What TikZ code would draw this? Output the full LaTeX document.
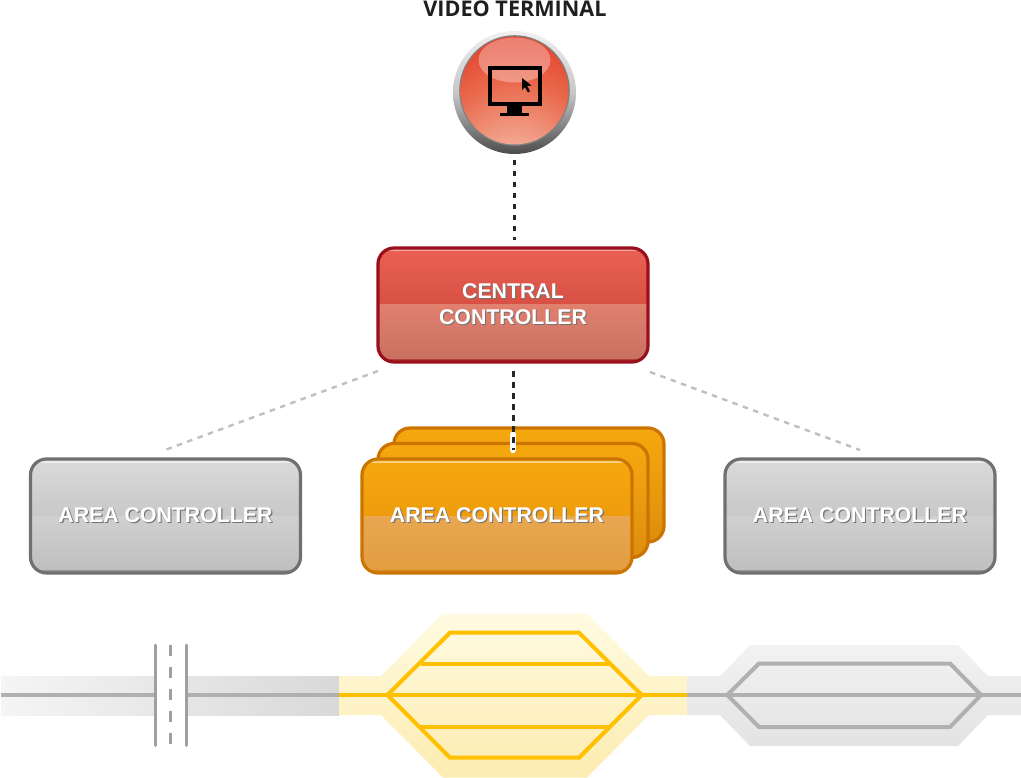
\documentclass[tikz,border=0pt]{standalone}
\usepackage{fontspec}
\setmainfont{Liberation Sans}
\newfontfamily\titlefont{Open Sans}
\usetikzlibrary{calc}

\definecolor{rdA}{HTML}{EA6055}
\definecolor{rdB}{HTML}{D85044}
\definecolor{rdC}{HTML}{E0806F}
\definecolor{rdD}{HTML}{C86F5E}
\definecolor{orA}{HTML}{F6A80F}
\definecolor{orB}{HTML}{EE9C0C}
\definecolor{orC}{HTML}{E8A750}
\definecolor{orD}{HTML}{E29C40}
\definecolor{orE}{HTML}{DC8E0E}
\definecolor{gyA}{HTML}{DADADA}
\definecolor{gyB}{HTML}{C8C8C8}
\definecolor{gyC}{HTML}{D0D0D0}
\definecolor{gyD}{HTML}{BEBEBE}
\definecolor{railgray}{HTML}{B0B0B0}
\definecolor{railyellow}{HTML}{FFC000}
\definecolor{roadmark}{HTML}{A0A0A0}
\definecolor{rdFrame}{HTML}{9A0F1C}
\definecolor{orFrame}{HTML}{CC7400}
\definecolor{gyFrame}{HTML}{707070}
\definecolor{lensA}{HTML}{FAD3C6}
\definecolor{lensB}{HTML}{F3AA95}
\definecolor{lensC}{HTML}{E9694C}
\definecolor{lensD}{HTML}{E0301E}
\definecolor{yellowTop}{HTML}{FFFBE2}
\definecolor{yellowBot}{HTML}{FDECB0}

% Lens shading of the terminal button, brightest at its lower rim
\pgfdeclareradialshading{lens}{\pgfpoint{0bp}{-50bp}}{%
  color(0bp)=(lensA);
  color(16bp)=(lensB);
  color(36bp)=(lensC);
  color(58bp)=(lensD);
  color(100bp)=(lensD)}

\newcommand{\embossed}[1]{\leavevmode\rlap{\kern1.1pt\raisebox{-1.1pt}{\textcolor{black!55}{#1}}}\textcolor{white}{#1}}

\tikzset{
  x=1pt,y=-1pt,
  panelbox/.style={
    line width=3.2pt, rounded corners=16pt,
    minimum width=270pt, minimum height=114pt, inner sep=0pt,
    align=center, font=\fontsize{21.3}{26}\selectfont\bfseries},
  glossbox/.style n args={6}{
    panelbox, draw=#1,
    path picture={
      \begin{scope}[sharp corners]
      \shade[top color=#2,bottom color=#3]
        (path picture bounding box.north west) rectangle
        (path picture bounding box.east);
      \shade[top color=#4,bottom color=#5]
        (path picture bounding box.west) rectangle
        (path picture bounding box.south east);
      \draw[white,opacity=.45,line width=2pt]
        ($(path picture bounding box.north west)+(0,2.5)$) --
        ($(path picture bounding box.north east)+(0,2.5)$);
      \draw[#6,opacity=.5,line width=2pt]
        ($(path picture bounding box.south west)+(0,-2)$) --
        ($(path picture bounding box.south east)+(0,-2)$);
      \end{scope}
    }},
  redbox/.style={glossbox={rdFrame}{rdA}{rdB}{rdC}{rdD}{rdFrame}},
  orangebox/.style={glossbox={orFrame}{orA}{orB}{orC}{orD}{orFrame}},
  stackedbox/.style={panelbox, draw=orFrame, top color=orA, bottom color=orE},
  graybox/.style={glossbox={gyFrame}{gyA}{gyB}{gyC}{gyD}{gyFrame}},
  signal/.style={line width=3pt,black!85,dash pattern=on 5.5pt off 5.5pt},
  idlelink/.style={line width=2.4pt,black!25,dash pattern=on 5.5pt off 5.5pt},
  yellowtrack/.style={line width=4pt,railyellow,miter limit=10},
  graytrack/.style={line width=4pt,railgray},
  roadedge/.style={line width=3pt,roadmark,line cap=round},
}

\begin{document}
\begin{tikzpicture}
\useasboundingbox (0,0) rectangle (1021,778);

% Running line at the bottom: plain track, station zones and level crossing
\shade[left color=black!4,right color=black!15] (1,676) rectangle (339,715);
\fill[white] (155,670) rectangle (186,720);
\draw[graytrack] (1,695) -- (155,695) (186,695) -- (339,695);
\draw[roadedge] (155,645) -- (155,745.5);
\draw[roadedge] (186,645) -- (186,745.5);
\draw[line width=3pt,roadmark,dash pattern=on 11pt off 11pt] (170.5,644.5) -- (170.5,746);

\shade[top color=yellowTop,bottom color=yellowBot]
  (339,676) -- (381,676) -- (443,613.5) -- (587,613.5) -- (649,676) -- (687,676)
  -- (687,715) -- (649,715) -- (587,777.5) -- (443,777.5) -- (381,715) -- (339,715) -- cycle;
\draw[yellowtrack] (339,695) -- (687,695);
\draw[yellowtrack] (387.5,695) -- (450,632.7) -- (579,632.7) -- (641.7,695);
\draw[yellowtrack] (387.5,695) -- (450,757.7) -- (579,757.7) -- (641.7,695);
\draw[yellowtrack] (420.7,664) -- (609,664);
\draw[yellowtrack] (420.7,726.5) -- (609,726.5);

\shade[top color=black!5,bottom color=black!11]
  (687,676) -- (720,676) -- (750,645) -- (958,645) -- (988,676) -- (1021,676)
  -- (1021,715) -- (988,715) -- (958,746) -- (750,746) -- (720,715) -- (687,715) -- cycle;
\draw[graytrack] (687,695) -- (1021,695);
\draw[graytrack] (727.3,695) -- (759,663.5) -- (950,663.5) -- (981,695);
\draw[graytrack] (727.3,695) -- (759,727) -- (950,727) -- (981,695);

% Controllers
\node[redbox] (central) at (513,305) {\embossed{CENTRAL}\\\embossed{CONTROLLER}};
\node[stackedbox] (areaback) at (529,485) {};
\node[stackedbox] (areamid) at (513,500.5) {};
\node[orangebox] (areafront) at (497,516) {\embossed{AREA CONTROLLER}};
\node[graybox] (arealeft) at (165.5,516) {\embossed{AREA CONTROLLER}};
\node[graybox] (arearight) at (860,516) {\embossed{AREA CONTROLLER}};

% Terminal button with its monitor symbol
\coordinate (btn) at (514.5,92.5);
\coordinate (lenscentre) at (514.5,90.5);
\shade[top color=black!6,bottom color=black!70,middle color=black!22] (btn) circle[radius=61.5];
\fill[black!50] (lenscentre) circle[radius=55.3];
\shade[shading=lens] (lenscentre) circle[radius=54];
\fill[white,opacity=.32] (514.5,60) ellipse[x radius=36,y radius=22.5];
\draw[black,line width=4pt] (489.7,67.7) rectangle (539.7,103.7);
\fill[black] (507,105) rectangle (521.7,113);
\fill[black] (500,113) rectangle (529,116);
\fill[black] (522,78) -- (522,90) -- (525,87.2) -- (528,92.5) -- (530,91.3) -- (527.2,86) -- (531.5,85.5) -- cycle;
\node[font=\titlefont\fontsize{21.6}{24}\selectfont\bfseries,text=black!88,inner sep=0pt] (videolabel) at (515,8.5) {VIDEO TERMINAL};
\node[circle,minimum size=123pt,inner sep=0pt] (terminal) at (btn) {};

% Links between terminal and controllers
\coordinate (termdrop) at (514.5,160);
\coordinate (centralfeed) at (514.5,240);
\coordinate (stackport) at (513,450);
\coordinate (leftend) at (165,450);
\coordinate (rightend) at (860,450);
\coordinate (leftstart) at (378,371);
\coordinate (rightstart) at (650,372);
\coordinate (midstart) at (513,371);
\draw[signal] (termdrop) -- (centralfeed);
\draw[white,line width=6.5pt,line cap=round] (513,434.5) -- (stackport);
\draw[signal] (midstart) -- (stackport);
\draw[idlelink] (leftstart) -- (leftend);
\draw[idlelink] (rightstart) -- (rightend);
\end{tikzpicture}
\end{document}
